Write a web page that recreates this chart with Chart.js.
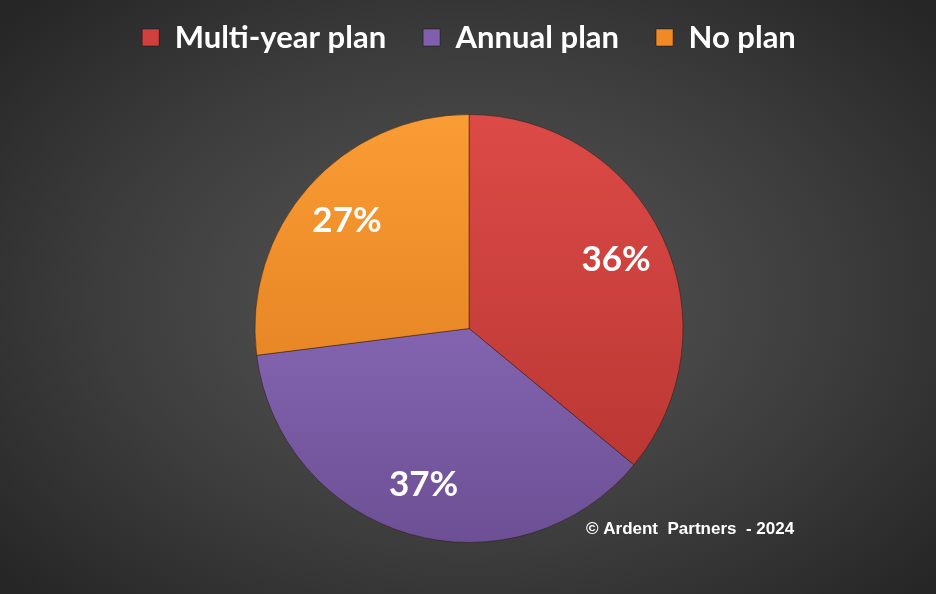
<!DOCTYPE html>
<html>
<head>
<meta charset="utf-8">
<script src="https://cdn.jsdelivr.net/npm/chart.js@4"></script>
<style>
  html, body { margin: 0; padding: 0; }
  body {
    width: 936px; height: 594px; overflow: hidden;
    background: radial-gradient(ellipse 620px 420px at 470px 300px, #585858 0%, #3c3c3c 60%, #262626 100%);
  }
  #wrap { position: relative; width: 936px; height: 594px; }
</style>
</head>
<body>
<div id="wrap"><canvas id="chart"></canvas></div>
<script>
const categories = ['Multi-year plan', 'Annual plan', 'No plan'];
const shares = [36, 37, 27];
const sliceTop = ['#dc4a47', '#9a78cc', '#fa9c34'];
const sliceBottom = ['#b3332f', '#6c4f94', '#d8761a'];
const legendColors = ['#d0403e', '#7f5fae', '#f08a24'];
const credit = '\u00a9 Ardent  Partners  - 2024';

function sliceFill (ctx) {
    const chart = ctx.chart;
    const area = chart.chartArea;
    if (!area) return sliceTop[ctx.dataIndex];
    const g = chart.ctx.createLinearGradient(0, 116, 0, 544);
    g.addColorStop(0, sliceTop[ctx.dataIndex]);
    g.addColorStop(1, sliceBottom[ctx.dataIndex]);
    return g;
}

const sliceLabels = {
    id: 'sliceLabels',
    afterDatasetsDraw (chart) {
        const c = chart.ctx;
        const meta = chart.getDatasetMeta(0);
        c.save();
        c.font = 'bold 35px Lato';
        c.fillStyle = '#ffffff';
        c.textAlign = 'center';
        c.textBaseline = 'middle';
        meta.data.forEach(function (arc, i) {
            const p = arc.getProps(['x', 'y', 'startAngle', 'endAngle', 'outerRadius'], true);
            const mid = (p.startAngle + p.endAngle) / 2;
            const r = p.outerRadius * 0.76;
            c.fillText(shares[i] + '%', p.x + Math.cos(mid) * r, p.y + Math.sin(mid) * r);
        });
        c.font = 'bold 17px "Liberation Sans"';
        c.textAlign = 'left';
        c.fillText(credit, 586, 529);
        c.restore();
    }
};

new Chart(document.getElementById('chart'), {
    type: 'pie',
    data: {
        labels: categories,
        datasets: [{
            data: shares,
            radius: 214,
            backgroundColor: sliceFill,
            borderColor: 'rgba(40, 20, 10, 0.45)',
            borderWidth: 1
        }]
    },
    options: {
        responsive: true,
        maintainAspectRatio: false,
        animation: false,
        events: [],
        layout: { padding: { top: -15, bottom: -3, left: 2, right: 0 } },
        plugins: {
            tooltip: { enabled: false },
            legend: {
                position: 'top',
                labels: {
                    color: '#ffffff',
                    font: { family: 'Lato', size: 31, weight: 'bold' },
                    boxWidth: 17,
                    boxHeight: 17,
                    padding: 37,
                    generateLabels: function (chart) {
                        return categories.map(function (name, i) {
                            return {
                                text: name,
                                fillStyle: legendColors[i],
                                strokeStyle: 'rgba(0,0,0,0.4)',
                                lineWidth: 1,
                                fontColor: '#ffffff',
                                index: i
                            };
                        });
                    }
                }
            }
        }
    },
    plugins: [sliceLabels]
});
</script>
</body>
</html>
